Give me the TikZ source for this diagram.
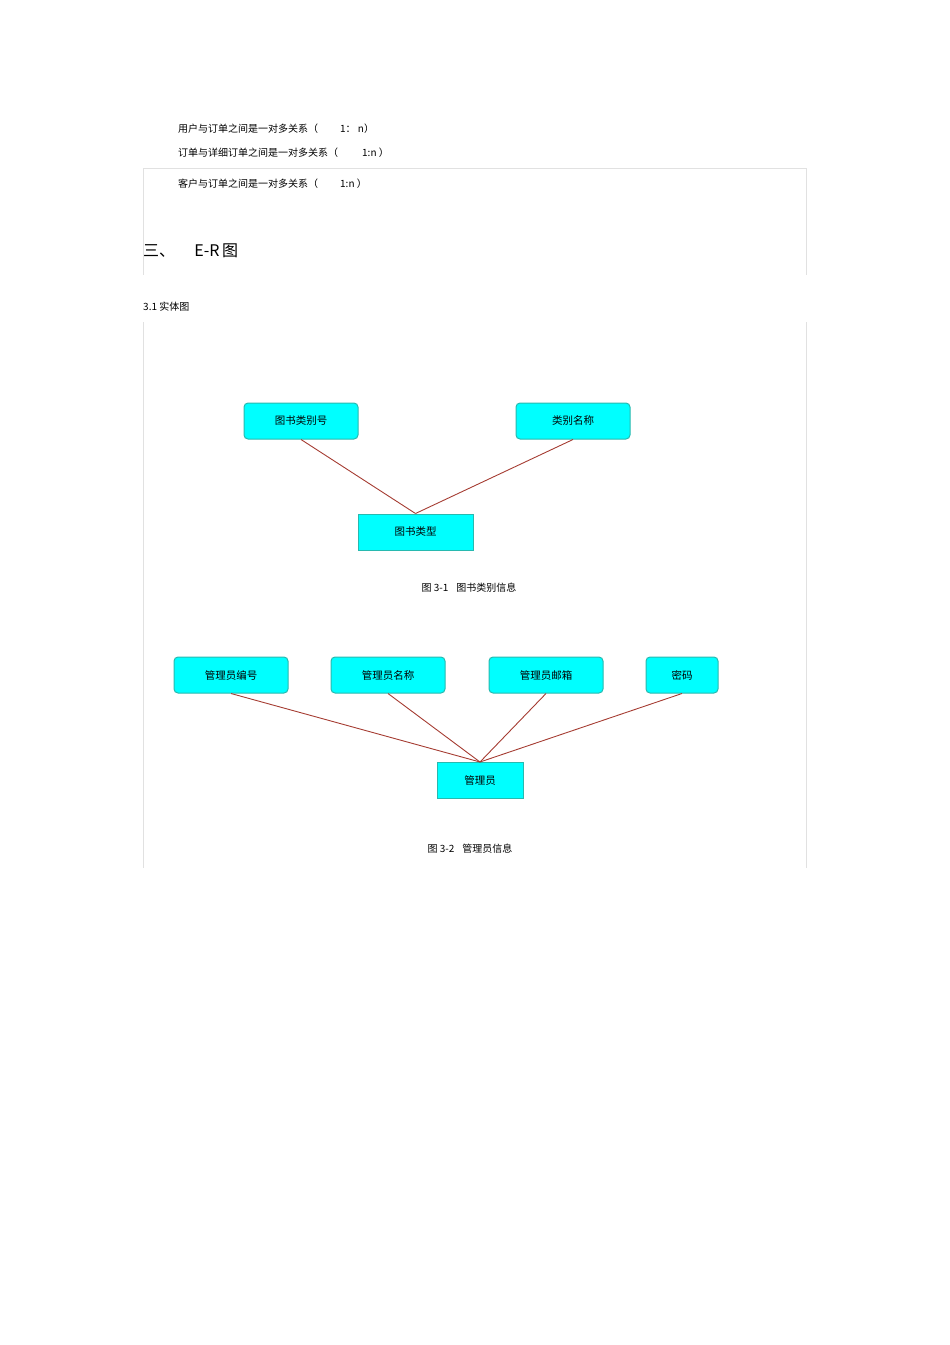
\documentclass[tikz,border=0pt]{standalone}
\usepackage{fontspec}
\setmainfont{Liberation Sans}
\newfontfamily\cjk{Noto Sans CJK SC}
\definecolor{cy}{RGB}{0,255,255}
\definecolor{cyb}{RGB}{40,185,175}
\definecolor{ln}{RGB}{165,60,50}
\definecolor{fr}{RGB}{225,225,225}
\begin{document}
\begin{tikzpicture}[x=1pt,y=-1pt,
  ent/.style={draw=cyb,fill=cy,line width=1pt,minimum height=36pt,inner sep=0pt,font=\cjk\fontsize{10.5}{12}\selectfont},
  attr/.style={ent,rounded corners=4pt},
  rel/.style={draw=ln,line width=0.9pt},
  txt/.style={anchor=west,inner sep=0pt,font=\cjk\fontsize{10}{12}\selectfont}]
\useasboundingbox (0,0) rectangle (950,1345);
\draw[fr,line width=0.6pt] (143,275) -- (143,168) -- (806,168) -- (806,275);
\draw[fr,line width=0.6pt] (143,868) -- (143,322);
\draw[fr,line width=0.6pt] (806,868) -- (806,322);
\node[txt] (t1) at (178,129) {用户与订单之间是一对多关系（\hspace{2.2em}1： n）};
\node[txt] (t2) at (178,153) {订单与详细订单之间是一对多关系（\hspace{2.4em}1:n ）};
\node[txt] (t3) at (178,184) {客户与订单之间是一对多关系（\hspace{2.2em}1:n ）};
\node[txt,font=\cjk\fontsize{16}{18}\selectfont] (h) at (143,251) {三、\hspace{1.2em}E-R\,图};
\node[txt] (s) at (143,307) {3.1  实体图};
\node[attr,minimum width=114pt] (a1) at (301,421) {图书类别号};
\node[attr,minimum width=114pt] (a2) at (573,421) {类别名称};
\node[ent,minimum width=115pt] (e1) at (415.5,532) {图书类型};
\draw[rel] (a1.south) -- (e1.north);
\draw[rel] (a2.south) -- (e1.north);
\node[txt,anchor=center] (c1) at (469,588) {图 3-1\hspace{0.8em}图书类别信息};
\node[attr,minimum width=114pt] (b1) at (231,675) {管理员编号};
\node[attr,minimum width=114pt] (b2) at (388,675) {管理员名称};
\node[attr,minimum width=114pt] (b3) at (546,675) {管理员邮箱};
\node[attr,minimum width=72pt] (b4) at (682,675) {密码};
\node[ent,minimum width=86pt] (e2) at (480,780.5) {管理员};
\foreach \b in {b1,b2,b3,b4} \draw[rel] (\b.south) -- (e2.north);
\node[txt,anchor=center] (c2) at (470,849) {图 3-2\hspace{0.8em}管理员信息};
\end{tikzpicture}
\end{document}
